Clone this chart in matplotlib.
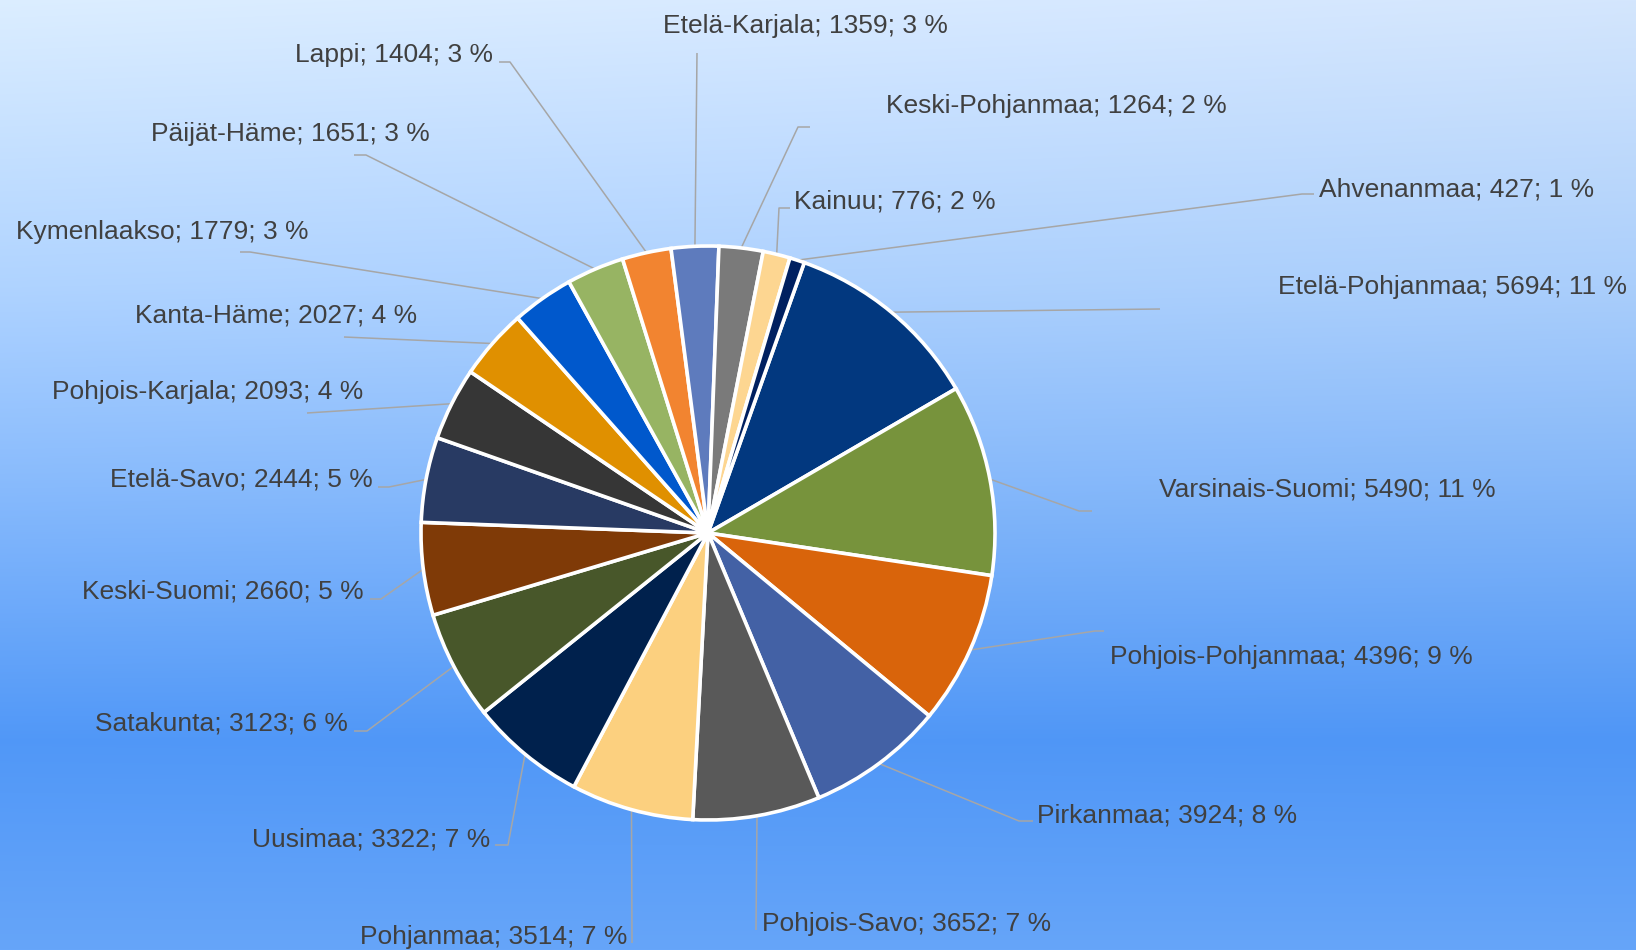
import numpy as np
import matplotlib
matplotlib.use("Agg")
import matplotlib.pyplot as plt
from matplotlib.colors import to_rgb

# ---------------- data ----------------
regions = ["Etelä-Pohjanmaa", "Varsinais-Suomi", "Pohjois-Pohjanmaa", "Pirkanmaa",
           "Pohjois-Savo", "Pohjanmaa", "Uusimaa", "Satakunta", "Keski-Suomi",
           "Etelä-Savo", "Pohjois-Karjala", "Kanta-Häme", "Kymenlaakso",
           "Päijät-Häme", "Lappi", "Etelä-Karjala", "Keski-Pohjanmaa", "Kainuu",
           "Ahvenanmaa"]
values = [5694, 5490, 4396, 3924, 3652, 3514, 3322, 3123, 2660, 2444, 2093, 2027,
          1779, 1651, 1404, 1359, 1264, 776, 427]

# ---------------- styles ----------------
colors = ["#02387f", "#77933c", "#d9640b", "#4361a5", "#595959", "#fcd07f",
          "#00214d", "#48572a", "#7f3a07", "#283a63", "#363636", "#e09000",
          "#0058cc", "#97b463", "#f28430", "#5e7bbd", "#7a7a7a", "#fdd691",
          "#002060"]

W, H = 1636, 950
CX, CY, R = 708, 533, 287  # pixel layout (top-origin y)

# label layout (top-origin pixel coords): text x, text visual-centre y, ha, leader points
label_layout = [
    (1278, 285, "left", [(1160, 309)]),
    (1159, 487, "left", [(1079, 511), (1092, 511)]),
    (1110, 655, "left", [(1095, 631), (1104, 631)]),
    (1037, 813, "left", [(1019, 821), (1033, 821)]),
    (762, 922, "left", [(756, 930)]),
    (627, 935, "right", [(632, 943)]),
    (490, 837, "right", [(508, 845), (495, 845)]),
    (348, 722, "right", [(367, 731), (354, 731)]),
    (364, 590, "right", [(381, 599), (370, 599)]),
    (373, 478, "right", [(389, 487), (378, 487)]),
    (363, 390, "right", [(307, 413)]),
    (417, 313, "right", [(344, 337)]),
    (308, 230, "right", [(250, 252), (240, 252)]),
    (430, 132, "right", [(366, 155), (354, 155)]),
    (493, 53, "right", [(510, 62), (499, 62)]),
    (663, 24, "left", [(697, 53)]),
    (886, 104, "left", [(798, 127), (810, 127)]),
    (794, 199, "left", [(779, 208), (790, 208)]),
    (1319, 187, "left", [(1302, 194), (1314, 194)]),
]

# ---------------- figure ----------------
fig = plt.figure(figsize=(W / 100, H / 100), dpi=100)

# background gradient
stops = [(0.0, "#d4e6fd"), (0.3, "#aacefb"), (0.5, "#86b8f9"),
         (0.78, "#4f96f6"), (1.0, "#66a5f9")]
ys = np.linspace(0, 1, H)
pos = [s[0] for s in stops]
cols = np.array([to_rgb(s[1]) for s in stops])
grad_col = np.stack([np.interp(ys, pos, cols[:, k]) for k in range(3)], axis=1)
xs = np.linspace(0, 1, W)
grad = grad_col[:, None, :] * np.ones((1, W, 1))
# slight diagonal lightening towards the upper-left
shade = (0.03 * (1 - xs))[None, :, None] * (1 - ys)[:, None, None]
grad = np.clip(grad + shade, 0, 1)

bg = fig.add_axes([0, 0, 1, 1])
bg.imshow(grad, aspect="auto", extent=(0, W, 0, H), origin="upper")
bg.set_xlim(0, W)
bg.set_ylim(0, H)
bg.axis("off")

ax = fig.add_axes([0, 0, 1, 1])
wedges, _ = ax.pie(values, colors=colors, startangle=70.4, counterclock=False,
                   center=(CX, H - CY), radius=R,
                   wedgeprops=dict(edgecolor="white", linewidth=2.6))
ax.set_xlim(0, W)
ax.set_ylim(0, H)
ax.axis("off")

total = sum(values)
for w, name, val, (tx, ty, ha, pts) in zip(wedges, regions, values, label_layout):
    mid = np.deg2rad((w.theta1 + w.theta2) / 2)
    x0 = CX + R * np.cos(mid)
    y0 = (H - CY) + R * np.sin(mid)
    lx = [x0] + [p[0] for p in pts]
    ly = [y0] + [H - p[1] for p in pts]
    ax.plot(lx, ly, color="#a6a6a6", lw=1.1, zorder=0.5, solid_capstyle="butt")
    pct = round(val / total * 100)
    ax.text(tx, H - (ty + 9), f"{name}; {val}; {pct} %", ha=ha, va="baseline",
            fontsize=19, color="#404040",
            family=["Liberation Sans", "DejaVu Sans"])

fig.savefig("out.png", dpi=100)
